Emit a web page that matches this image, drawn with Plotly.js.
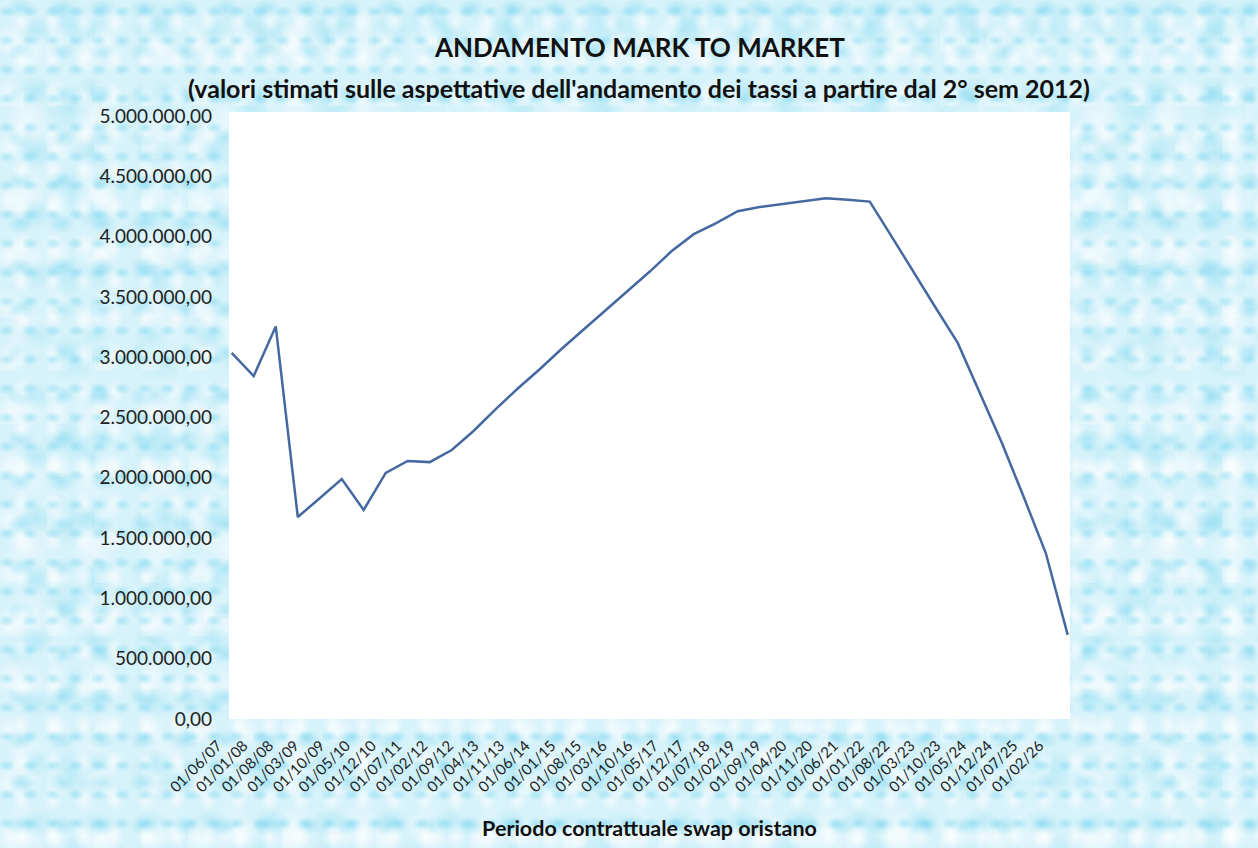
<!DOCTYPE html>
<html>
<head>
<meta charset="utf-8">
<script src="https://cdn.plot.ly/plotly-3.0.1.min.js"></script>
<style>
  html, body { margin: 0; padding: 0; width: 1258px; height: 848px; overflow: hidden; }
  body {
    background-color: #d6f2fa;
    background-image:
      radial-gradient(ellipse 9px 6px at 30% 40%, rgba(120,214,240,0.5), rgba(120,214,240,0)),
      radial-gradient(ellipse 10px 13px at 70% 60%, rgba(255,255,255,0.65), rgba(255,255,255,0)),
      radial-gradient(ellipse 14px 10px at 50% 20%, rgba(110,210,238,0.4), rgba(110,210,238,0)),
      radial-gradient(ellipse 16px 20px at 20% 80%, rgba(255,255,255,0.6), rgba(255,255,255,0)),
      radial-gradient(ellipse 20px 15px at 60% 50%, rgba(125,215,240,0.35), rgba(125,215,240,0)),
      radial-gradient(ellipse 24px 30px at 40% 70%, rgba(255,255,255,0.5), rgba(255,255,255,0)),
      radial-gradient(ellipse 30px 24px at 80% 30%, rgba(130,218,242,0.3), rgba(130,218,242,0));
    background-size: 23px 29px, 31px 37px, 41px 43px, 47px 53px, 59px 61px, 67px 71px, 89px 83px;
  }
  #chart { width: 1258px; height: 848px; }
</style>
</head>
<body>
<div id="chart"></div>
<script>
// Semi-annual valuation dates
const dates = [
  '2007-06-01','2007-12-01','2008-06-01','2008-12-01','2009-06-01','2009-12-01',
  '2010-06-01','2010-12-01','2011-06-01','2011-12-01','2012-06-01','2012-12-01',
  '2013-06-01','2013-12-01','2014-06-01','2014-12-01','2015-06-01','2015-12-01',
  '2016-06-01','2016-12-01','2017-06-01','2017-12-01','2018-06-01','2018-12-01',
  '2019-06-01','2019-12-01','2020-06-01','2020-12-01','2021-06-01','2021-12-01',
  '2022-06-01','2022-12-01','2023-06-01','2023-12-01','2024-06-01','2024-12-01',
  '2025-06-01','2025-12-01','2026-06-01'
];
// Mark to market values (EUR)
const mtmValues = [
  3035000, 2844000, 3255000, 1675000, 1830000, 1990000,
  1733000, 2040000, 2140000, 2130000, 2230000, 2390000,
  2570000, 2740000, 2900000, 3070000, 3230000, 3390000,
  3550000, 3710000, 3880000, 4020000, 4110000, 4210000,
  4245000, 4270000, 4295000, 4318000, 4305000, 4290000,
  4000000, 3700000, 3410000, 3118000, 2710000, 2290000,
  1840000, 1376000, 697000
];
const chartTitle = 'ANDAMENTO MARK TO MARKET';
const chartSubtitle = "(valori stimati sulle aspettative dell'andamento dei tassi a partire dal 2° sem 2012)";
const xAxisTitle = 'Periodo contrattuale swap oristano';

const FONT = 'Lato, "Open Sans", sans-serif';

const trace = {
  x: dates,
  y: mtmValues,
  type: 'scatter',
  mode: 'lines',
  line: { color: '#4568a0', width: 2.5 },
  hoverinfo: 'x+y'
};

const layout = {
  width: 1258,
  height: 848,
  separators: ',.',
  paper_bgcolor: 'rgba(0,0,0,0)',
  plot_bgcolor: '#ffffff',
  showlegend: false,
  margin: { l: 229, r: 188, t: 112, b: 129 },
  font: { family: FONT, color: '#222222', size: 15 },
  xaxis: {
    type: 'date',
    range: ['2007-05-10', '2026-06-20'],
    tick0: '2007-06-01',
    dtick: 'M7',
    tickformat: '%d/%m/%y',
    tickangle: -45,
    ticks: '',
    showgrid: false,
    zeroline: false,
    showline: false,
    ticklabelstandoff: 14,
    ticklabelshift: -14,
    tickfont: { family: FONT, size: 15, color: '#222222' },
    title: { text: '<b>' + xAxisTitle + '</b>', font: { family: FONT, size: 21.5, color: '#111111' }, standoff: 26 }
  },
  yaxis: {
    range: [0, 5033000],
    tick0: 0,
    dtick: 500000,
    tickformat: ',.2f',
    ticks: '',
    showgrid: false,
    zeroline: false,
    showline: false,
    ticklabelstandoff: 16,
    tickfont: { family: FONT, size: 19, color: '#222222' }
  },
  annotations: [
    {
      text: '<b>' + chartTitle + '</b>',
      xref: 'paper', yref: 'paper', x: 0.488, y: 1.107,
      xanchor: 'center', yanchor: 'middle', showarrow: false,
      font: { family: FONT, size: 26, color: '#111111' }
    },
    {
      text: '<b>' + chartSubtitle + '</b>',
      xref: 'paper', yref: 'paper', x: 0.488, y: 1.0395,
      xanchor: 'center', yanchor: 'middle', showarrow: false,
      font: { family: FONT, size: 25, color: '#111111' }
    }
  ]
};

Plotly.newPlot('chart', [trace], layout, { displayModeBar: false, staticPlot: true });
</script>
</body>
</html>
